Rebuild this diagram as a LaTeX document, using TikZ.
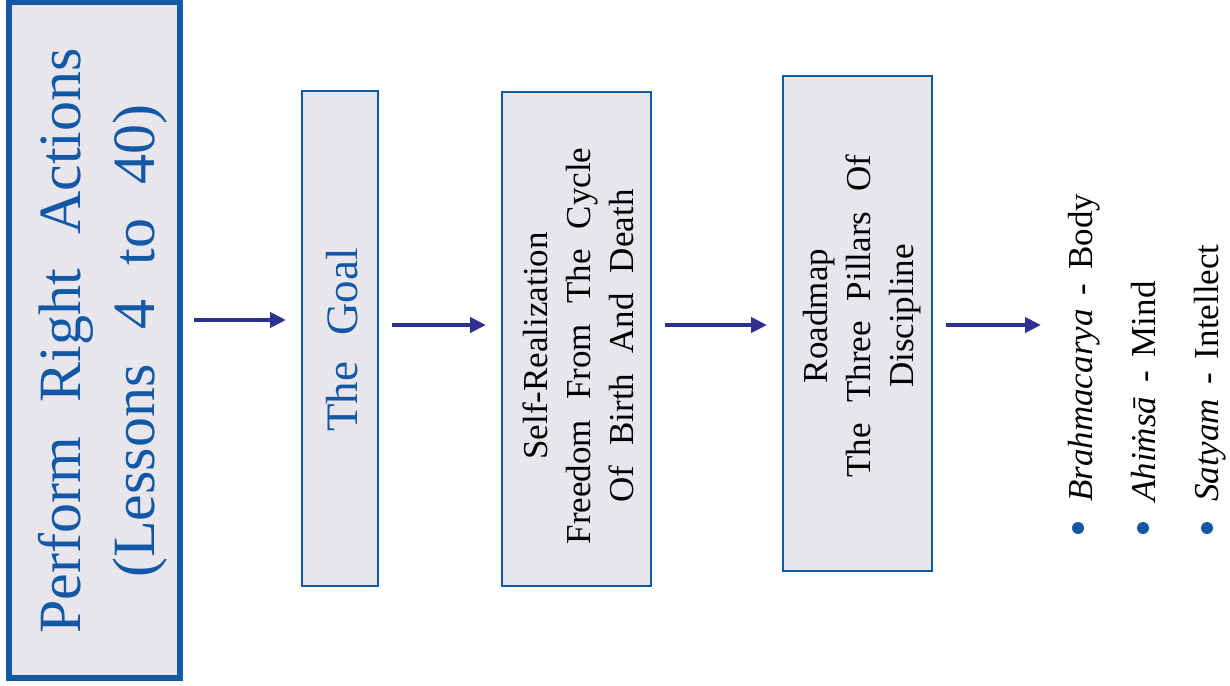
\documentclass[tikz,border=0pt]{standalone}
\usepackage{fontspec}
\setmainfont[WordSpace=2.3]{Liberation Serif}
\usetikzlibrary{arrows.meta}
\definecolor{boxblue}{RGB}{18,88,166}
\definecolor{boxfill}{RGB}{232,230,235}
\definecolor{arrowblue}{RGB}{46,49,146}
\newcommand\listspace{\spaceskip=14pt plus 2pt minus 2pt\relax}
\tikzset{>={Triangle[length=16pt,width=15pt]}}
\tikzset{
  panel/.style={draw=boxblue, fill=boxfill, line width=2.5pt, inner sep=0pt, outer sep=0pt},
  vtext/.style={rotate=90, align=center, inner sep=0pt},
  flow/.style={->, line width=4pt, color=arrowblue, shorten <=14pt, shorten >=16pt},
  bulletdot/.style={circle, fill=boxblue, inner sep=0pt, minimum size=12pt},
  listitem/.style={rotate=90, anchor=base west, inner sep=0pt, font=\fontsize{35}{42}\selectfont}
}

\begin{document}
\begin{tikzpicture}[x=1pt, y=-1pt]
\useasboundingbox (0,0) rectangle (1230,685);

% the four boxes
\node[panel, line width=6pt, minimum width=171pt, minimum height=675.5pt] (perform) at (94.5,340.25) {};
\node[panel, minimum width=76pt, minimum height=495pt] (goal) at (340,338.5) {};
\node[panel, minimum width=149pt, minimum height=494pt] (real) at (576.5,339) {};
\node[panel, minimum width=149pt, minimum height=495pt] (road) at (857.5,323.5) {};

\node[vtext, text=boxblue, font=\fontsize{60}{74}\selectfont] (performtxt) at (103,341) {Perform Right Actions\\(Lessons 4 to 40)};
\node[vtext, text=boxblue, font=\fontsize{45}{54}\selectfont] (goaltxt) at (342,340) {The Goal};
\node[vtext, font=\fontsize{35}{43}\selectfont] (realtxt) at (578,346) {Self-Realization\\Freedom From The Cycle\\Of Birth And Death};
\node[vtext, font=\fontsize{35}{43}\selectfont] (roadtxt) at (862,316) {Roadmap\\The Three Pillars Of\\Discipline};

% arrows
\coordinate (lvlA) at (0,320);
\coordinate (lvlB) at (0,325);
\coordinate (listin) at (1057,325);
\draw[flow] (perform.east |- lvlA) -- (goal.west |- lvlA);
\foreach \a/\b in {goal/real, real/road}
  \draw[flow] (\a.east |- lvlB) -- (\b.west |- lvlB);
\draw[flow] (road.east |- lvlB) -- (listin);

% the three pillars
\foreach \n/\bx/\lx/\word/\part in {brahma/1078/1092/Brahmacarya/Body, ahimsa/1143/1155/Ahiṁsā/Mind, satyam/1207/1218/Satyam/Intellect}{
  \node[bulletdot] (\n dot) at (\bx,528) {};
  \node[listitem] (\n) at (\lx,502) {\listspace\textit{\word} - \part};
}
\end{tikzpicture}
\end{document}
